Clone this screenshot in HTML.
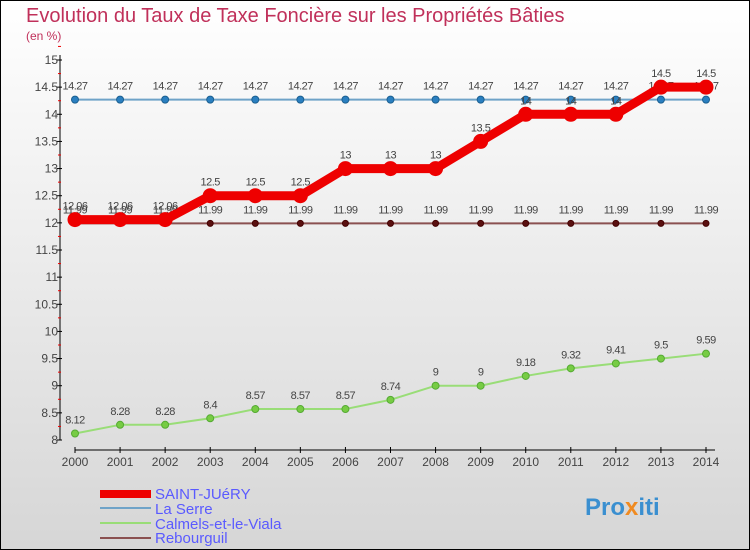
<!DOCTYPE html>
<html><head><meta charset="utf-8"><style>
body{margin:0;}
svg{display:block;font-family:"Liberation Sans",sans-serif;}
</style></head><body>
<svg id="c" width="750" height="550" xmlns="http://www.w3.org/2000/svg">
<defs><linearGradient id="bg" x1="0" y1="0" x2="0" y2="1"><stop offset="0" stop-color="#ffffff"/><stop offset="1" stop-color="#d6d6d6"/></linearGradient></defs>
<rect x="0.5" y="0.5" width="749" height="549" fill="url(#bg)" stroke="#000"/>
<text x="26" y="22" font-size="20" fill="#c0305a">Evolution du Taux de Taxe Foncière sur les Propriétés Bâties</text>
<text x="26" y="40" font-size="12" fill="#c0305a">(en %)</text>
<g id="axes"></g><g id="series"></g>
<g>
<rect x="100" y="490" width="51" height="8" fill="#e00"/>
<text x="155" y="499" font-size="15" fill="#5a5aff">SAINT-JUéRY</text>
<line x1="100" y1="508" x2="151" y2="508" stroke="#6fa3c8" stroke-width="2"/>
<text x="155" y="514" font-size="15" fill="#5a5aff">La Serre</text>
<line x1="100" y1="523" x2="151" y2="523" stroke="#99dd77" stroke-width="2"/>
<text x="155" y="529" font-size="15" fill="#5a5aff">Calmels-et-le-Viala</text>
<line x1="100" y1="538" x2="151" y2="538" stroke="#8a5050" stroke-width="2"/>
<text x="155" y="543" font-size="15" fill="#5a5aff">Rebourguil</text>
</g>
<text x="585" y="515" font-size="24" font-weight="bold" fill="#3a8fd0">Pro<tspan fill="#f08a20">x</tspan>iti</text>
</svg>
<script>
const years=[2000,2001,2002,2003,2004,2005,2006,2007,2008,2009,2010,2011,2012,2013,2014];
const yTicks=[8,8.5,9,9.5,10,10.5,11,11.5,12,12.5,13,13.5,14,14.5,15];
const saintJuery=[12.06,12.06,12.06,12.5,12.5,12.5,13,13,13,13.5,14,14,14,14.5,14.5];
const laSerre=[14.27,14.27,14.27,14.27,14.27,14.27,14.27,14.27,14.27,14.27,14.27,14.27,14.27,14.27,14.27];
const calmels=[8.12,8.28,8.28,8.4,8.57,8.57,8.57,8.74,9,9,9.18,9.32,9.41,9.5,9.59];
const rebourguil=[11.99,11.99,11.99,11.99,11.99,11.99,11.99,11.99,11.99,11.99,11.99,11.99,11.99,11.99,11.99];
const NS="http://www.w3.org/2000/svg";
const X=i=>75+i*(631/14);
const Y=v=>440-(v-8)*(380/7);
function mk(p,t,a){const e=document.createElementNS(NS,t);for(const k in a)e.setAttribute(k,a[k]);p.appendChild(e);return e;}
const ax=document.getElementById('axes');
const yAxis=mk(ax,'line',{x1:60,y1:55,x2:60,y2:440,stroke:'#000'});


const xAxis=mk(ax,'line',{x1:75,y1:450,x2:715,y2:450,stroke:'#000'});


yTicks.forEach(v=>{
 mk(ax,'line',{x1:57,y1:Y(v),x2:62,y2:Y(v),stroke:'#000'});
 mk(ax,'line',{x1:58,y1:Y(v+0.25),x2:61,y2:Y(v+0.25),stroke:'#e00'});
 const t=mk(ax,'text',{x:58,y:Y(v)+4,'font-size':12,fill:'#444','text-anchor':'end'});
 t.textContent=v;
 
 
});
years.forEach((y,i)=>{
 mk(ax,'line',{x1:X(i),y1:447,x2:X(i),y2:453,stroke:'#000'});
 const t=mk(ax,'text',{x:X(i),y:466,'font-size':12,fill:'#444','text-anchor':'middle'});
 t.textContent=y;
 
 
});
const sg=document.getElementById('series');
function series(vals,name,color,lw,r,dot,dotStroke){
 const g=mk(sg,'g',{});
 
 
 const ln=mk(g,'polyline',{points:vals.map((v,i)=>X(i)+','+Y(v)).join(' '),fill:'none',stroke:color,'stroke-width':lw,'stroke-linejoin':'round'});
 
 
 vals.forEach((v,i)=>{
  const c=mk(g,'circle',{cx:X(i),cy:Y(v),r:r,fill:dot,stroke:dotStroke,'stroke-width':1});
  
  
  const t=mk(g,'text',{x:X(i),y:Y(v)-10,'font-size':11,fill:'#444','text-anchor':'middle','letter-spacing':'-0.5'});
  t.textContent=v;
  
  
 });
}
series(calmels,'calmels','#99dd77',2,3.5,'#77cc44','#55aa33');
series(rebourguil,'rebourguil','#8a5050',2,3,'#5a1010','#400');
series(laSerre,'la-serre','#6fa3c8',2,3.5,'#2a7fc0','#1a5f90');
series(saintJuery,'saint-juery','#ee0000',9,7,'#ee0000','#ee0000');
</script>
</body></html>
